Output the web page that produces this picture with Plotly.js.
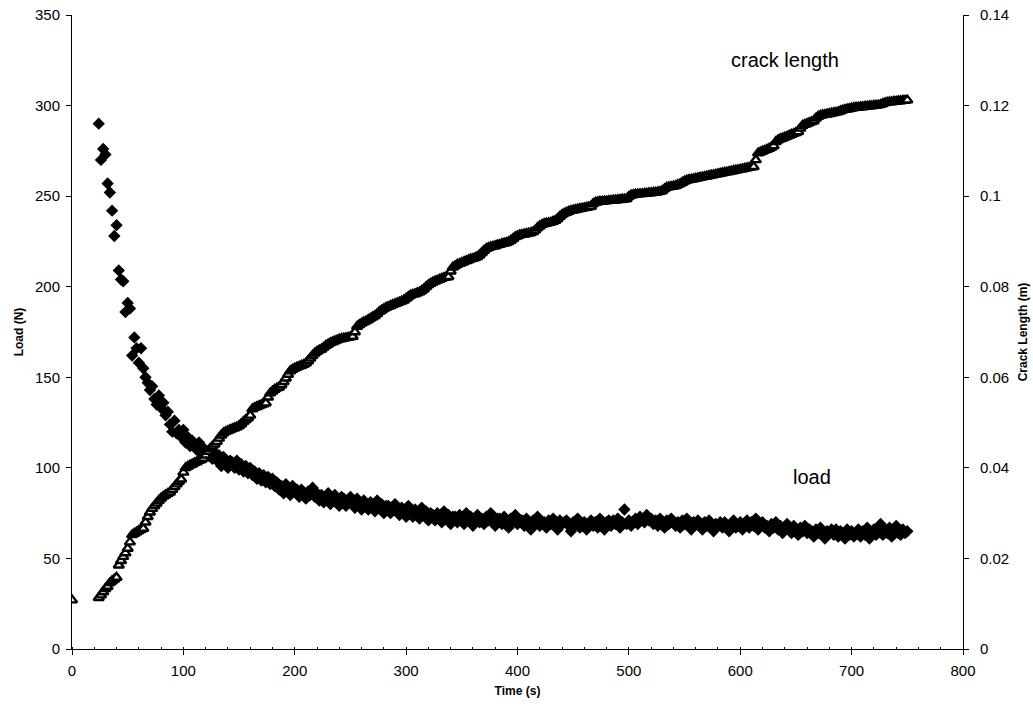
<!DOCTYPE html>
<html>
<head>
<meta charset="utf-8">
<script src="https://cdn.plot.ly/plotly-3.0.1.min.js"></script>
<style>
html,body{margin:0;padding:0;background:#fff;}
#chart{width:1033px;height:707px;}
</style>
</head>
<body>
<div id="chart"></div>
<script>
// Time (s) of each sample
const timeS = [
24,26,28,30,32,34,36,38,40,42,
44,46,48,50,52,54,56,58,60,62,
64,66,68,70,72,74,76,78,80,82,
84,86,88,90,92,94,96,98,100,102,
104,106,108,110,112,114,116,118,120,122,
124,126,128,130,132,134,136,138,140,142,
144,146,148,150,152,154,156,158,160,162,
164,166,168,170,172,174,176,178,180,182,
184,186,188,190,192,194,196,198,200,202,
204,206,208,210,212,214,216,218,220,222,
224,226,228,230,232,234,236,238,240,242,
244,246,248,250,252,254,256,258,260,262,
264,266,268,270,272,274,276,278,280,282,
284,286,288,290,292,294,296,298,300,302,
304,306,308,310,312,314,316,318,320,322,
324,326,328,330,332,334,336,338,340,342,
344,346,348,350,352,354,356,358,360,362,
364,366,368,370,372,374,376,378,380,382,
384,386,388,390,392,394,396,398,400,402,
404,406,408,410,412,414,416,418,420,422,
424,426,428,430,432,434,436,438,440,442,
444,446,448,450,452,454,456,458,460,462,
464,466,468,470,472,474,476,478,480,482,
484,486,488,490,492,494,496,498,500,502,
504,506,508,510,512,514,516,518,520,522,
524,526,528,530,532,534,536,538,540,542,
544,546,548,550,552,554,556,558,560,562,
564,566,568,570,572,574,576,578,580,582,
584,586,588,590,592,594,596,598,600,602,
604,606,608,610,612,614,616,618,620,622,
624,626,628,630,632,634,636,638,640,642,
644,646,648,650,652,654,656,658,660,662,
664,666,668,670,672,674,676,678,680,682,
684,686,688,690,692,694,696,698,700,702,
704,706,708,710,712,714,716,718,720,722,
724,726,728,730,732,734,736,738,740,742,
744,746,748,750
];

// Load (N)
const loadN = [
290,270,276,273,257,252,242,228,234,209,
204,203,186,191,188,162,172,166,158,166,
155,150,147,143,145,138,135,140,133,136,
129,131,124,120,126,119,121,117,121,114,
117,112,115,113,110,114,108,111,107,109,
110,105,108,104,107,101,106,103,100,104,
103,100,104,99,102,98,101,97,100,96,
98,94,97,93,96,92,95,91,94,90,
92,88,90,86,91,89,85,90,87,88,
84,88,86,83,87,85,89,84,86,82,
85,81,84,86,80,83,85,82,79,84,
83,79,82,84,80,78,83,81,77,82,
80,77,81,79,76,82,78,80,75,79,
79,75,78,80,76,74,78,77,73,79,
76,73,77,75,72,78,74,76,71,75,
74,71,75,73,70,76,72,74,69,73,
73,70,74,72,69,75,71,73,68,72,
74,70,72,69,73,71,75,70,68,72,
72,69,73,70,67,72,70,74,69,71,
71,68,72,70,66,71,69,73,68,70,
70,67,71,69,72,68,66,71,69,70,
71,68,65,70,69,72,67,69,70,66,
69,71,68,70,67,72,69,66,70,71,
68,71,69,72,67,70,77,69,71,68,
70,72,69,73,71,70,74,71,72,69,
71,68,72,70,67,71,69,72,70,68,
70,67,71,69,72,68,66,70,69,71,
69,66,70,68,71,67,65,69,68,70,
67,70,68,65,69,71,67,68,70,66,
69,71,67,70,68,72,66,69,70,67,
68,65,69,67,70,66,68,64,67,69,
67,64,68,66,63,67,65,68,64,66,
65,62,66,64,67,63,61,65,64,66,
63,66,62,65,64,61,66,63,65,62,
64,66,62,65,63,67,61,64,66,63,
65,69,63,66,64,67,62,65,68,64,
63,66,64,65
];

// Crack length (m)
const crackM = [
0.0113,0.0119,0.0126,0.0133,0.0138,0.0146,0.0150,0.0154,0.0158,0.0185,
0.0195,0.0204,0.0212,0.0222,0.0236,0.0252,0.0255,0.0258,0.0261,0.0264,
0.0266,0.0280,0.0292,0.0302,0.0310,0.0316,0.0322,0.0328,0.0333,0.0337,
0.0340,0.0343,0.0346,0.0352,0.0358,0.0364,0.0370,0.0375,0.0390,0.0400,
0.0403,0.0406,0.0408,0.0411,0.0413,0.0416,0.0418,0.0421,0.0428,0.0436,
0.0442,0.0447,0.0452,0.0458,0.0465,0.0472,0.0477,0.0480,0.0482,0.0484,
0.0486,0.0488,0.0490,0.0493,0.0497,0.0502,0.0506,0.0510,0.0516,0.0530,
0.0533,0.0535,0.0537,0.0539,0.0541,0.0543,0.0556,0.0565,0.0569,0.0573,
0.0576,0.0578,0.0583,0.0590,0.0598,0.0606,0.0614,0.0617,0.0620,0.0622,
0.0624,0.0626,0.0628,0.0631,0.0636,0.0642,0.0648,0.0653,0.0657,0.0660,
0.0662,0.0666,0.0670,0.0673,0.0676,0.0678,0.0680,0.0682,0.0684,0.0685,
0.0686,0.0687,0.0688,0.0689,0.0690,0.0700,0.0712,0.0716,0.0719,0.0722,
0.0724,0.0727,0.0730,0.0733,0.0736,0.0740,0.0745,0.0748,0.0751,0.0754,
0.0756,0.0758,0.0760,0.0762,0.0764,0.0766,0.0768,0.0770,0.0774,0.0778,
0.0781,0.0783,0.0784,0.0786,0.0788,0.0791,0.0795,0.0800,0.0804,0.0807,
0.0810,0.0812,0.0814,0.0816,0.0818,0.0820,0.0821,0.0822,0.0834,0.0843,
0.0846,0.0849,0.0851,0.0853,0.0855,0.0857,0.0859,0.0861,0.0862,0.0864,
0.0866,0.0870,0.0875,0.0880,0.0884,0.0886,0.0888,0.0889,0.0890,0.0892,
0.0893,0.0895,0.0896,0.0897,0.0899,0.0902,0.0906,0.0910,0.0912,0.0914,
0.0915,0.0916,0.0917,0.0918,0.0919,0.0921,0.0925,0.0930,0.0934,0.0937,
0.0939,0.0940,0.0941,0.0942,0.0944,0.0946,0.0950,0.0955,0.0959,0.0962,
0.0964,0.0966,0.0968,0.0969,0.0970,0.0971,0.0972,0.0973,0.0974,0.0975,
0.0976,0.0977,0.0983,0.0986,0.0987,0.0988,0.0988,0.0989,0.0989,0.0990,
0.0990,0.0991,0.0991,0.0992,0.0992,0.0993,0.0993,0.0994,0.0999,0.1002,
0.1003,0.1004,0.1004,0.1005,0.1005,0.1006,0.1006,0.1007,0.1007,0.1008,
0.1008,0.1009,0.1010,0.1012,0.1016,0.1019,0.1020,0.1021,0.1022,0.1023,
0.1025,0.1027,0.1030,0.1033,0.1035,0.1036,0.1037,0.1038,0.1039,0.1040,
0.1041,0.1042,0.1043,0.1044,0.1045,0.1046,0.1047,0.1048,0.1049,0.1050,
0.1051,0.1052,0.1053,0.1054,0.1055,0.1056,0.1057,0.1058,0.1059,0.1060,
0.1061,0.1062,0.1063,0.1064,0.1065,0.1080,0.1095,0.1097,0.1099,0.1101,
0.1103,0.1105,0.1108,0.1111,0.1120,0.1124,0.1126,0.1128,0.1130,0.1132,
0.1134,0.1136,0.1138,0.1140,0.1142,0.1150,0.1156,0.1158,0.1160,0.1162,
0.1164,0.1166,0.1172,0.1176,0.1178,0.1179,0.1180,0.1181,0.1182,0.1183,
0.1184,0.1185,0.1186,0.1188,0.1190,0.1191,0.1192,0.1193,0.1194,0.1195,
0.1196,0.1196,0.1197,0.1197,0.1198,0.1198,0.1199,0.1199,0.1200,0.1200,
0.1201,0.1202,0.1204,0.1206,0.1207,0.1208,0.1208,0.1209,0.1209,0.1210,
0.1210,0.1211,0.1211,0.1212
];

// Initial crack length at t = 0
const crackStartTime = [0];
const crackStartM = [0.0108];

const crackTime = crackStartTime.concat(timeS);
const crackAll = crackStartM.concat(crackM);

const FONT = 'Liberation Sans, Arial, sans-serif';

const traces = [
  {
    x: timeS, y: loadN, type: 'scatter', mode: 'markers', name: 'load',
    marker: {symbol: 'diamond', size: 9.5, color: '#000', line: {width: 0}},
    yaxis: 'y'
  },
  {
    x: crackTime, y: crackAll, type: 'scatter', mode: 'markers', name: 'crack length',
    marker: {symbol: 'triangle-up', size: 9, color: '#fff', line: {width: 2.4, color: '#000'}},
    yaxis: 'y2'
  }
];

const layout = {
  width: 1033, height: 707,
  margin: {l: 72, r: 70, t: 15, b: 58},
  paper_bgcolor: '#fff', plot_bgcolor: '#fff',
  showlegend: false,
  font: {family: FONT, size: 15, color: '#000'},
  xaxis: {
    range: [0, 800], dtick: 100, tick0: 0,
    showgrid: false, zeroline: false,
    showline: true, linecolor: '#000', linewidth: 1,
    ticks: 'outside', ticklen: 5, tickcolor: '#000',
    ticklabelstandoff: 3,
    minor: {dtick: 20, ticks: 'inside', ticklen: 2, tickcolor: '#000', showgrid: false},
    tickfont: {family: FONT, size: 15},
    title: {text: 'Time (s)', font: {family: FONT, size: 12, weight: 'bold'}, standoff: 8}
  },
  yaxis: {
    range: [0, 350], dtick: 50, tick0: 0,
    showgrid: false, zeroline: false,
    showline: true, linecolor: '#000', linewidth: 1,
    ticks: 'outside', ticklen: 5, tickcolor: '#000',
    ticklabelstandoff: 3,
    tickfont: {family: FONT, size: 15},
    title: {text: 'Load (N)', font: {family: FONT, size: 12, weight: 'bold'}, standoff: 8}
  },
  yaxis2: {
    range: [0, 0.14], dtick: 0.02, tick0: 0,
    overlaying: 'y', side: 'right',
    showgrid: false, zeroline: false,
    showline: true, linecolor: '#000', linewidth: 1,
    ticks: 'outside', ticklen: 5, tickcolor: '#000',
    ticklabelstandoff: 8,
    tickfont: {family: FONT, size: 15},
    title: {text: 'Crack Length (m)', font: {family: FONT, size: 12, weight: 'bold'}, standoff: 10}
  },
  annotations: [
    {text: 'crack length', xref: 'x', yref: 'y', x: 640, y: 325, showarrow: false,
     font: {family: FONT, size: 20, color: '#000'}},
    {text: 'load', xref: 'x', yref: 'y', x: 664, y: 95, showarrow: false,
     font: {family: FONT, size: 20, color: '#000'}}
  ]
};

Plotly.newPlot('chart', traces, layout, {displayModeBar: false, staticPlot: true});
</script>
</body>
</html>
